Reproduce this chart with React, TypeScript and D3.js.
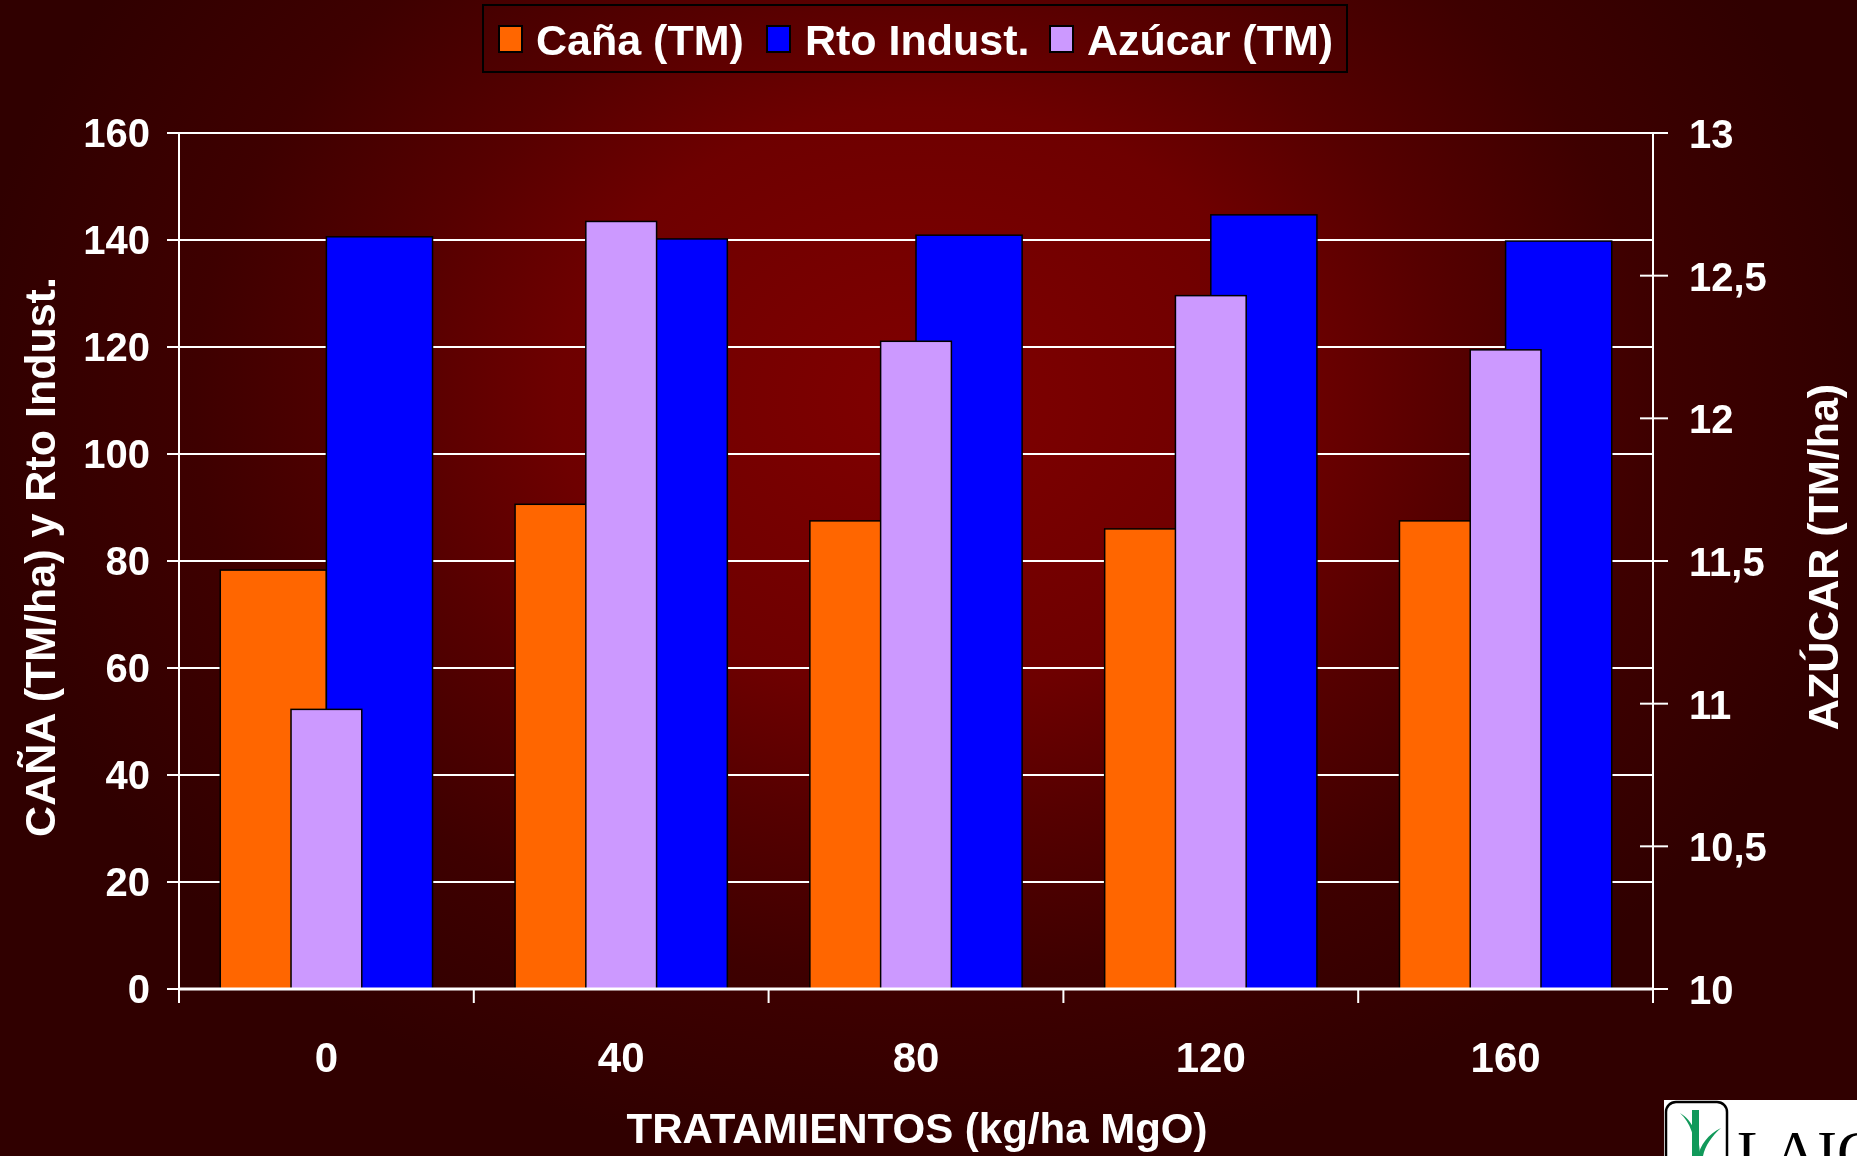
import React from "react";
import * as d3 from "d3";

const categories = ["0", "40", "80", "120", "160"];
const canaValues = [78.3, 90.6, 87.5, 86.0, 87.5];
const rtoValues = [140.6, 140.2, 140.9, 144.7, 139.8];
const azucarValues = [10.98, 12.69, 12.27, 12.43, 12.24];
const leftTicks = [0, 20, 40, 60, 80, 100, 120, 140, 160];
const rightTicks = [10, 10.5, 11, 11.5, 12, 12.5, 13];
const seriesNames = ["Caña (TM)", "Rto Indust.", "Azúcar (TM)"];
const seriesColors = ["#ff6600", "#0000ff", "#cc99ff"];

const W = 1857;
const H = 1156;
const FONT = "'Liberation Sans', Arial, sans-serif";

export default function App() {
  const x = d3.scaleBand<string>().domain(categories).range([179, 1653]).paddingInner(0).paddingOuter(0);
  const yL = d3.scaleLinear().domain([0, 160]).range([989, 133]);
  const yR = d3.scaleLinear().domain([10, 13]).range([989, 133]);
  const bw = x.bandwidth();
  const primaryW = bw * 0.36;
  const secW = bw * 0.24;
  const fmtR = (v: number) => String(v).replace(".", ",");
  const boundaries = [...categories.map((c) => x(c) as number), 1653];

  const legendItems = [
    { sx: 499, tx: 536 },
    { sx: 767, tx: 805 },
    { sx: 1050, tx: 1087 },
  ];

  return (
    <svg
      width={W}
      height={H}
      style={{ position: "fixed", left: 0, top: 0, display: "block" }}
      fontFamily={FONT}
    >
      <defs>
        <radialGradient
          id="bg"
          gradientUnits="userSpaceOnUse"
          cx={924}
          cy={400}
          r={960}
          gradientTransform="translate(924,400) scale(1,0.8) translate(-924,-400)"
        >
          <stop offset="0" stopColor="#800000" />
          <stop offset="0.38" stopColor="#6e0000" />
          <stop offset="0.55" stopColor="#560000" />
          <stop offset="0.76" stopColor="#3e0000" />
          <stop offset="1" stopColor="#300000" />
        </radialGradient>
      </defs>
      <rect x={0} y={0} width={W} height={H} fill="url(#bg)" />

      {/* gridlines */}
      {leftTicks.filter((t) => t > 0).map((t) => (
        <line key={"g" + t} x1={179} x2={1653} y1={yL(t)} y2={yL(t)} stroke="#ffffff" strokeWidth={2} />
      ))}

      {/* primary bars */}
      {categories.map((c, i) => {
        const cx = (x(c) as number) + bw / 2;
        return (
          <g key={"p" + c}>
            <rect x={cx - primaryW} y={yL(canaValues[i])} width={primaryW} height={yL(0) - yL(canaValues[i])}
              fill={seriesColors[0]} stroke="#000" strokeWidth={1.5} />
            <rect x={cx} y={yL(rtoValues[i])} width={primaryW} height={yL(0) - yL(rtoValues[i])}
              fill={seriesColors[1]} stroke="#000" strokeWidth={1.5} />
          </g>
        );
      })}
      {/* secondary bars */}
      {categories.map((c, i) => {
        const cx = (x(c) as number) + bw / 2;
        return (
          <rect key={"s" + c} x={cx - secW / 2} y={yR(azucarValues[i])} width={secW} height={yR(10) - yR(azucarValues[i])}
            fill={seriesColors[2]} stroke="#000" strokeWidth={1.5} />
        );
      })}

      {/* axes */}
      <line x1={179} x2={179} y1={133} y2={1003} stroke="#fff" strokeWidth={2} />
      <line x1={1653} x2={1653} y1={133} y2={1003} stroke="#fff" strokeWidth={2} />
      <line x1={179} x2={1653} y1={989} y2={989} stroke="#fff" strokeWidth={3} />
      {leftTicks.map((t) => (
        <g key={"lt" + t}>
          <line x1={167} x2={179} y1={yL(t)} y2={yL(t)} stroke="#fff" strokeWidth={2} />
          <text x={150} y={yL(t) + 14} textAnchor="end" fill="#fff" fontSize={40} fontWeight="bold">{t}</text>
        </g>
      ))}
      {rightTicks.map((t) => (
        <g key={"rt" + t}>
          <line x1={1640} x2={1668} y1={yR(t)} y2={yR(t)} stroke="#fff" strokeWidth={2} />
          <text x={1689} y={yR(t) + 15} textAnchor="start" fill="#fff" fontSize={40} fontWeight="bold">{fmtR(t)}</text>
        </g>
      ))}
      {boundaries.map((bx, i) => (
        <line key={"bt" + i} x1={bx} x2={bx} y1={989} y2={1003} stroke="#fff" strokeWidth={2} />
      ))}
      {categories.map((c) => (
        <text key={"cl" + c} x={(x(c) as number) + bw / 2} y={1072} textAnchor="middle" fill="#fff" fontSize={42} fontWeight="bold">{c}</text>
      ))}

      {/* axis titles */}
      <text x={917} y={1143} textAnchor="middle" fill="#fff" fontSize={42} fontWeight="bold">TRATAMIENTOS (kg/ha MgO)</text>
      <text transform="translate(55,557) rotate(-90)" textAnchor="middle" fill="#fff" fontSize={43} fontWeight="bold">CAÑA (TM/ha) y Rto Indust.</text>
      <text transform="translate(1838,557) rotate(-90)" textAnchor="middle" fill="#fff" fontSize={43} fontWeight="bold">AZÚCAR (TM/ha)</text>

      {/* legend */}
      <rect x={483} y={5} width={864} height={67} fill="none" stroke="#000" strokeWidth={2} />
      {seriesNames.map((n, i) => (
        <g key={"lg" + i}>
          <rect x={legendItems[i].sx} y={26} width={23} height={26} fill={seriesColors[i]} stroke="#000" strokeWidth={2} />
          <text x={legendItems[i].tx} y={55} fill="#fff" fontSize={43} fontWeight="bold">{n}</text>
        </g>
      ))}

      {/* logo */}
      <g>
        <rect x={1664} y={1100} width={200} height={70} fill="#fff" />
        <rect x={1666} y={1102} width={61} height={70} rx={10} ry={10} fill="#fff" stroke="#000" strokeWidth={2.5} />
        <rect x={1692} y={1110} width={7} height={50} fill="#11995a" />
        <path d="M1680,1113 C1690,1122 1696,1138 1695,1156 L1700,1156 C1700,1136 1692,1120 1680,1113 Z" fill="#11995a" />
        <path d="M1721,1128 C1708,1134 1700,1146 1698,1156 L1703,1156 C1705,1146 1712,1136 1721,1128 Z" fill="#11995a" />
        <text x={1737} y={1172} fill="#000" fontSize={60} fontFamily="'Liberation Serif', 'Times New Roman', serif">LAIC</text>
      </g>
    </svg>
  );
}
